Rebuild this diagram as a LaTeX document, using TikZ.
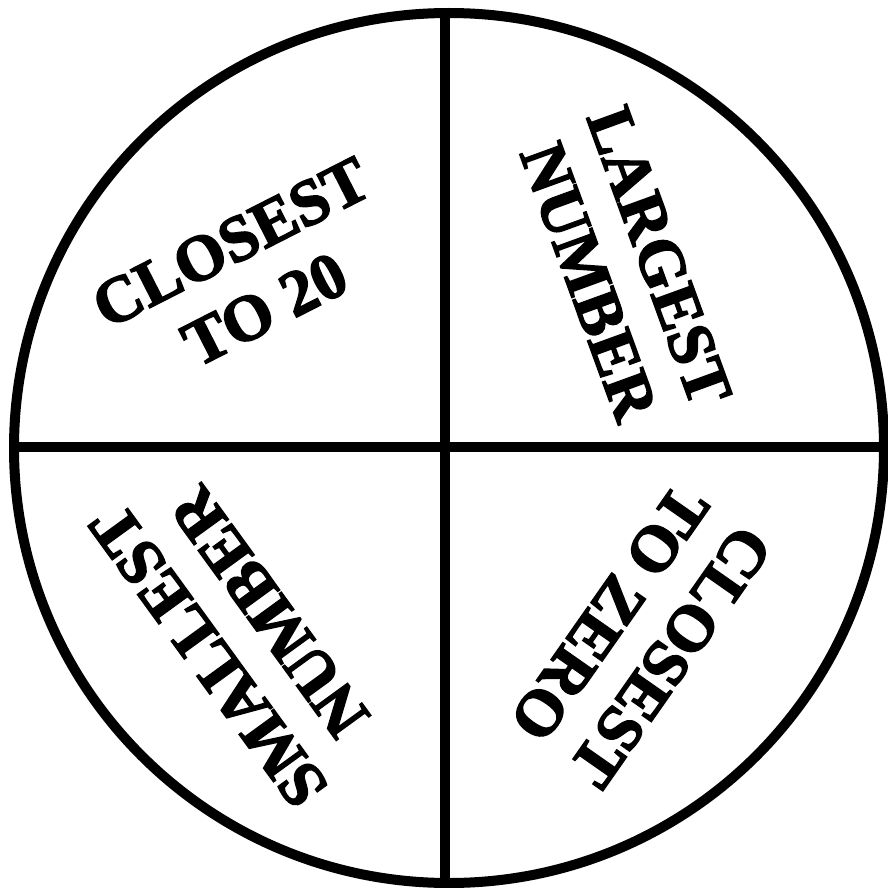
\documentclass[tikz,border=0pt]{standalone}
\usepackage{fontspec}
\setmainfont{Liberation Serif}
\newfontfamily\heavyfont{Liberation Serif Bold}[FakeBold=2.5]
\begin{document}
\begin{tikzpicture}[x=1pt,y=-1pt,
  rim/.style={line width=10pt,draw=black},
  label/.style={font=\fontsize{65}{75}\selectfont\heavyfont,align=center,inner sep=0pt,text=black}]
\useasboundingbox (0,0) rectangle (887,888);
\fill[white] (0,0) rectangle (887,888);
\node[circle,rim,minimum size=870pt,inner sep=0pt] (wheel) at (449,448) {};
\coordinate (top) at (445,13);
\coordinate (bot) at (445,883);
\coordinate (lft) at (14,447);
\coordinate (rgt) at (882,447);
\draw[rim] (top) -- (bot);
\draw[rim] (lft) -- (rgt);
\node[label,rotate=27] (c20) at (248,276) {CLOSEST\\TO 20};
\node[label,rotate=-70] (lg) at (624,269) {LARGEST\\NUMBER};
\node[label,rotate=-125] (cz) at (640,635) {CLOSEST\\TO ZERO};
\node[label,rotate=126] (sm) at (239,634) {SMALLEST\\NUMBER};
\end{tikzpicture}
\end{document}
